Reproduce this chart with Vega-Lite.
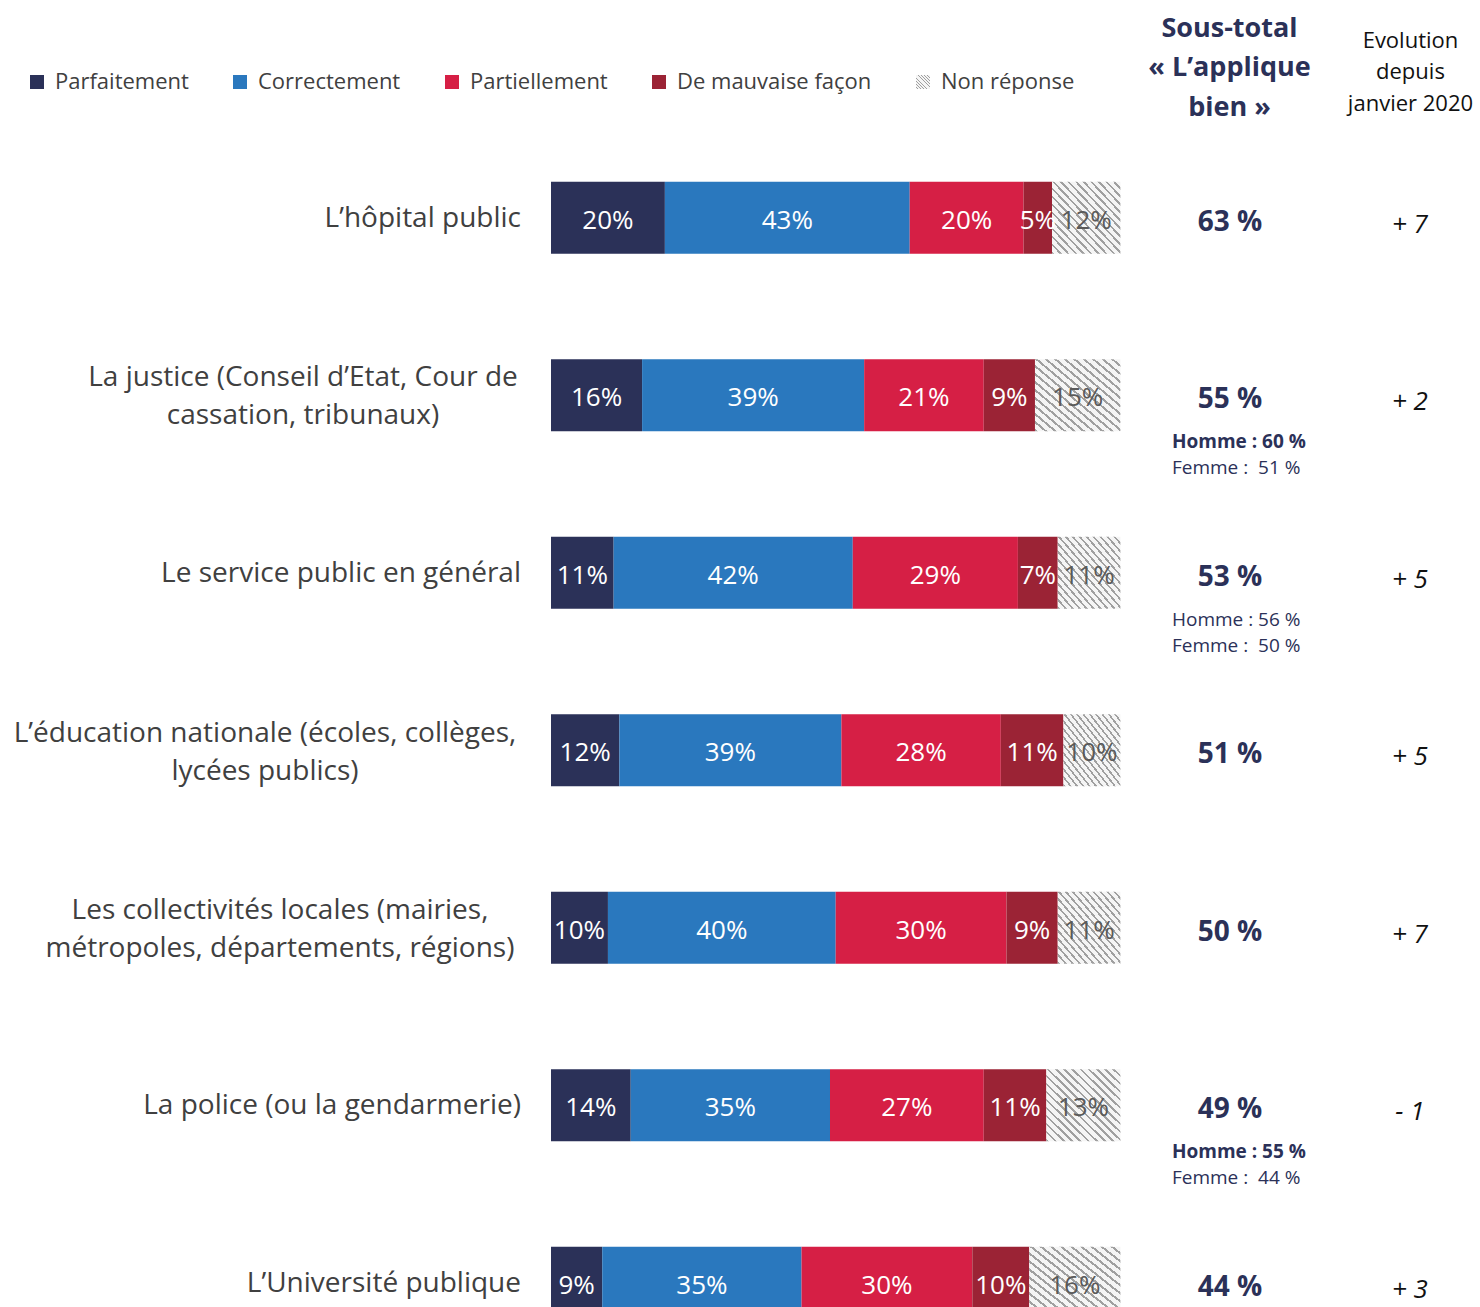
{
  "$schema": "https://vega.github.io/schema/vega-lite/v6.json",
  "width": 929,
  "height": 1178,
  "autosize": {"type": "none"},
  "padding": {"left": 551, "top": 129, "right": 0, "bottom": 0},
  "background": "#ffffff",
  "config": {"view": {"stroke": null}, "font": "Open Sans"},
  "datasets": {
    "reponses": [
      {"category": "L’hôpital public", "response": "Parfaitement", "code": 1, "value": 0.20},
      {"category": "L’hôpital public", "response": "Correctement", "code": 2, "value": 0.43},
      {"category": "L’hôpital public", "response": "Partiellement", "code": 3, "value": 0.20},
      {"category": "L’hôpital public", "response": "De mauvaise façon", "code": 4, "value": 0.05},
      {"category": "L’hôpital public", "response": "Non réponse", "code": 5, "value": 0.12},
      {"category": "La justice (Conseil d’Etat, Cour de\ncassation, tribunaux)", "response": "Parfaitement", "code": 1, "value": 0.16},
      {"category": "La justice (Conseil d’Etat, Cour de\ncassation, tribunaux)", "response": "Correctement", "code": 2, "value": 0.39},
      {"category": "La justice (Conseil d’Etat, Cour de\ncassation, tribunaux)", "response": "Partiellement", "code": 3, "value": 0.21},
      {"category": "La justice (Conseil d’Etat, Cour de\ncassation, tribunaux)", "response": "De mauvaise façon", "code": 4, "value": 0.09},
      {"category": "La justice (Conseil d’Etat, Cour de\ncassation, tribunaux)", "response": "Non réponse", "code": 5, "value": 0.15},
      {"category": "Le service public en général", "response": "Parfaitement", "code": 1, "value": 0.11},
      {"category": "Le service public en général", "response": "Correctement", "code": 2, "value": 0.42},
      {"category": "Le service public en général", "response": "Partiellement", "code": 3, "value": 0.29},
      {"category": "Le service public en général", "response": "De mauvaise façon", "code": 4, "value": 0.07},
      {"category": "Le service public en général", "response": "Non réponse", "code": 5, "value": 0.11},
      {"category": "L’éducation nationale (écoles, collèges,\nlycées publics)", "response": "Parfaitement", "code": 1, "value": 0.12},
      {"category": "L’éducation nationale (écoles, collèges,\nlycées publics)", "response": "Correctement", "code": 2, "value": 0.39},
      {"category": "L’éducation nationale (écoles, collèges,\nlycées publics)", "response": "Partiellement", "code": 3, "value": 0.28},
      {"category": "L’éducation nationale (écoles, collèges,\nlycées publics)", "response": "De mauvaise façon", "code": 4, "value": 0.11},
      {"category": "L’éducation nationale (écoles, collèges,\nlycées publics)", "response": "Non réponse", "code": 5, "value": 0.10},
      {"category": "Les collectivités locales (mairies,\nmétropoles, départements, régions)", "response": "Parfaitement", "code": 1, "value": 0.10},
      {"category": "Les collectivités locales (mairies,\nmétropoles, départements, régions)", "response": "Correctement", "code": 2, "value": 0.40},
      {"category": "Les collectivités locales (mairies,\nmétropoles, départements, régions)", "response": "Partiellement", "code": 3, "value": 0.30},
      {"category": "Les collectivités locales (mairies,\nmétropoles, départements, régions)", "response": "De mauvaise façon", "code": 4, "value": 0.09},
      {"category": "Les collectivités locales (mairies,\nmétropoles, départements, régions)", "response": "Non réponse", "code": 5, "value": 0.11},
      {"category": "La police (ou la gendarmerie)", "response": "Parfaitement", "code": 1, "value": 0.14},
      {"category": "La police (ou la gendarmerie)", "response": "Correctement", "code": 2, "value": 0.35},
      {"category": "La police (ou la gendarmerie)", "response": "Partiellement", "code": 3, "value": 0.27},
      {"category": "La police (ou la gendarmerie)", "response": "De mauvaise façon", "code": 4, "value": 0.11},
      {"category": "La police (ou la gendarmerie)", "response": "Non réponse", "code": 5, "value": 0.13},
      {"category": "L’Université publique", "response": "Parfaitement", "code": 1, "value": 0.09},
      {"category": "L’Université publique", "response": "Correctement", "code": 2, "value": 0.35},
      {"category": "L’Université publique", "response": "Partiellement", "code": 3, "value": 0.30},
      {"category": "L’Université publique", "response": "De mauvaise façon", "code": 4, "value": 0.10},
      {"category": "L’Université publique", "response": "Non réponse", "code": 5, "value": 0.16}
    ],
    "synthese": [
      {"category": "L’hôpital public", "soustotal": "63 %", "evolution": "+ 7", "homme": null, "femme": null},
      {"category": "La justice (Conseil d’Etat, Cour de\ncassation, tribunaux)", "soustotal": "55 %", "evolution": "+ 2", "homme": "Homme : 60 %", "femme": "Femme :\u00a0 51 %"},
      {"category": "Le service public en général", "soustotal": "53 %", "evolution": "+ 5", "homme": "Homme : 56 %", "femme": "Femme :\u00a0 50 %"},
      {"category": "L’éducation nationale (écoles, collèges,\nlycées publics)", "soustotal": "51 %", "evolution": "+ 5", "homme": null, "femme": null},
      {"category": "Les collectivités locales (mairies,\nmétropoles, départements, régions)", "soustotal": "50 %", "evolution": "+ 7", "homme": null, "femme": null},
      {"category": "La police (ou la gendarmerie)", "soustotal": "49 %", "evolution": "- 1", "homme": "Homme : 55 %", "femme": "Femme :\u00a0 44 %"},
      {"category": "L’Université publique", "soustotal": "44 %", "evolution": "+ 3", "homme": null, "femme": null}
    ]
  },
  "encoding": {
    "y": {
      "field": "category",
      "type": "nominal",
      "sort": null,
      "scale": {
        "domain": [
          "L’hôpital public",
          "La justice (Conseil d’Etat, Cour de\ncassation, tribunaux)",
          "Le service public en général",
          "L’éducation nationale (écoles, collèges,\nlycées publics)",
          "Les collectivités locales (mairies,\nmétropoles, départements, régions)",
          "La police (ou la gendarmerie)",
          "L’Université publique"
        ],
        "range": [0, 1242.5],
        "paddingInner": 0.594,
        "paddingOuter": 0.297
      },
      "axis": null
    }
  },
  "layer": [
    {
      "data": {"name": "reponses"},
      "mark": {"type": "bar"},
      "encoding": {
        "x": {
          "field": "value",
          "type": "quantitative",
          "stack": "zero",
          "scale": {"domain": [0, 1.6316], "nice": false, "zero": true},
          "axis": {
            "orient": "top",
            "values": [1.5086],
            "ticks": false,
            "domain": false,
            "grid": false,
            "labelPadding": 89,
            "labelFlush": false,
            "labelOverlap": false,
            "labelBound": false,
            "labelAngle": 0,
            "labelAlign": "center",
            "labelBaseline": "middle",
            "labelLimit": 400,
            "labelExpr": "['Evolution', 'depuis', 'janvier 2020']",
            "labelFontSize": 22,
            "labelColor": "#111111",
            "labelLineHeight": 31.5,
            "title": ["Sous-total", "« L’applique", "bien »"],
            "titleX": 678,
            "titleY": -101,
            "titleAngle": 0,
            "titleAlign": "center",
            "titleBaseline": "middle",
            "titleFontSize": 27,
            "titleFontWeight": "bold",
            "titleColor": "#2b3158",
            "titleLineHeight": 39.5
          }
        },
        "color": {
          "field": "response",
          "type": "nominal",
          "scale": {
            "domain": ["Parfaitement", "Correctement", "Partiellement", "De mauvaise façon", "Non réponse"],
            "range": [
              "#2b3158",
              "#2a78be",
              "#d61f45",
              "#9b2335",
              {"expr": "{gradient: 'linear', x1: 0, y1: 1, x2: 1, y2: 0, stops: [{offset: 0, color: '#a0a0a0'}, {offset: 0.018, color: '#a0a0a0'}, {offset: 0.018, color: '#f5f5f5'}, {offset: 0.0556, color: '#f5f5f5'}, {offset: 0.0556, color: '#a0a0a0'}, {offset: 0.0736, color: '#a0a0a0'}, {offset: 0.0736, color: '#f5f5f5'}, {offset: 0.1111, color: '#f5f5f5'}, {offset: 0.1111, color: '#a0a0a0'}, {offset: 0.1291, color: '#a0a0a0'}, {offset: 0.1291, color: '#f5f5f5'}, {offset: 0.1667, color: '#f5f5f5'}, {offset: 0.1667, color: '#a0a0a0'}, {offset: 0.1847, color: '#a0a0a0'}, {offset: 0.1847, color: '#f5f5f5'}, {offset: 0.2222, color: '#f5f5f5'}, {offset: 0.2222, color: '#a0a0a0'}, {offset: 0.2402, color: '#a0a0a0'}, {offset: 0.2402, color: '#f5f5f5'}, {offset: 0.2778, color: '#f5f5f5'}, {offset: 0.2778, color: '#a0a0a0'}, {offset: 0.2958, color: '#a0a0a0'}, {offset: 0.2958, color: '#f5f5f5'}, {offset: 0.3333, color: '#f5f5f5'}, {offset: 0.3333, color: '#a0a0a0'}, {offset: 0.3513, color: '#a0a0a0'}, {offset: 0.3513, color: '#f5f5f5'}, {offset: 0.3889, color: '#f5f5f5'}, {offset: 0.3889, color: '#a0a0a0'}, {offset: 0.4069, color: '#a0a0a0'}, {offset: 0.4069, color: '#f5f5f5'}, {offset: 0.4444, color: '#f5f5f5'}, {offset: 0.4444, color: '#a0a0a0'}, {offset: 0.4624, color: '#a0a0a0'}, {offset: 0.4624, color: '#f5f5f5'}, {offset: 0.5, color: '#f5f5f5'}, {offset: 0.5, color: '#a0a0a0'}, {offset: 0.518, color: '#a0a0a0'}, {offset: 0.518, color: '#f5f5f5'}, {offset: 0.5556, color: '#f5f5f5'}, {offset: 0.5556, color: '#a0a0a0'}, {offset: 0.5736, color: '#a0a0a0'}, {offset: 0.5736, color: '#f5f5f5'}, {offset: 0.6111, color: '#f5f5f5'}, {offset: 0.6111, color: '#a0a0a0'}, {offset: 0.6291, color: '#a0a0a0'}, {offset: 0.6291, color: '#f5f5f5'}, {offset: 0.6667, color: '#f5f5f5'}, {offset: 0.6667, color: '#a0a0a0'}, {offset: 0.6847, color: '#a0a0a0'}, {offset: 0.6847, color: '#f5f5f5'}, {offset: 0.7222, color: '#f5f5f5'}, {offset: 0.7222, color: '#a0a0a0'}, {offset: 0.7402, color: '#a0a0a0'}, {offset: 0.7402, color: '#f5f5f5'}, {offset: 0.7778, color: '#f5f5f5'}, {offset: 0.7778, color: '#a0a0a0'}, {offset: 0.7958, color: '#a0a0a0'}, {offset: 0.7958, color: '#f5f5f5'}, {offset: 0.8333, color: '#f5f5f5'}, {offset: 0.8333, color: '#a0a0a0'}, {offset: 0.8513, color: '#a0a0a0'}, {offset: 0.8513, color: '#f5f5f5'}, {offset: 0.8889, color: '#f5f5f5'}, {offset: 0.8889, color: '#a0a0a0'}, {offset: 0.9069, color: '#a0a0a0'}, {offset: 0.9069, color: '#f5f5f5'}, {offset: 0.9444, color: '#f5f5f5'}, {offset: 0.9444, color: '#a0a0a0'}, {offset: 0.9624, color: '#a0a0a0'}, {offset: 0.9624, color: '#f5f5f5'}, {offset: 1, color: '#f5f5f5'}]}"}
            ]
          },
          "legend": {
            "orient": "none",
            "legendX": -525,
            "legendY": -58,
            "direction": "horizontal",
            "title": null,
            "symbolType": "square",
            "symbolSize": 196,
            "symbolStrokeWidth": 0,
            "symbolOpacity": 1,
            "labelFont": "Open Sans",
            "labelFontSize": 22,
            "labelColor": "#404040",
            "labelOffset": 7,
            "columnPadding": 40,
            "labelLimit": 400
          }
        },
        "order": {"field": "code", "type": "quantitative"}
      }
    },
    {
      "data": {"name": "reponses"},
      "mark": {"type": "text", "fontSize": 26, "dy": 3},
      "encoding": {
        "x": {
          "field": "value",
          "type": "quantitative",
          "stack": "zero",
          "bandPosition": 0.5,
          "scale": {"domain": [0, 1.6316], "nice": false, "zero": true}
        },
        "detail": {"field": "response", "type": "nominal"},
        "order": {"field": "code", "type": "quantitative"},
        "text": {"field": "value", "type": "quantitative", "format": ".0%"},
        "color": {
          "condition": {"test": "datum.response === 'Non réponse'", "value": "#5a5a5a"},
          "value": "#ffffff"
        }
      }
    },
    {
      "data": {"name": "synthese"},
      "transform": [{"filter": {"field": "category", "oneOf": ["L’hôpital public", "Le service public en général", "La police (ou la gendarmerie)", "L’Université publique"]}}],
      "mark": {"type": "text", "fontSize": 28, "color": "#404040", "align": "right", "dy": 1},
      "encoding": {
        "x": {"datum": -0.0527, "type": "quantitative", "scale": {"domain": [0, 1.6316], "nice": false, "zero": true}},
        "text": {"field": "category", "type": "nominal"}
      }
    },
    {
      "data": {"name": "synthese"},
      "transform": [{"filter": {"field": "category", "equal": "La justice (Conseil d’Etat, Cour de\ncassation, tribunaux)"}}],
      "mark": {"type": "text", "fontSize": 28, "color": "#404040", "align": "center", "lineBreak": "\n", "lineHeight": 38, "dx": -218, "dy": -17},
      "encoding": {
        "x": {"datum": -0.0527, "type": "quantitative", "scale": {"domain": [0, 1.6316], "nice": false, "zero": true}},
        "text": {"field": "category", "type": "nominal"}
      }
    },
    {
      "data": {"name": "synthese"},
      "transform": [{"filter": {"field": "category", "equal": "L’éducation nationale (écoles, collèges,\nlycées publics)"}}],
      "mark": {"type": "text", "fontSize": 28, "color": "#404040", "align": "center", "lineBreak": "\n", "lineHeight": 38, "dx": -256, "dy": -16},
      "encoding": {
        "x": {"datum": -0.0527, "type": "quantitative", "scale": {"domain": [0, 1.6316], "nice": false, "zero": true}},
        "text": {"field": "category", "type": "nominal"}
      }
    },
    {
      "data": {"name": "synthese"},
      "transform": [{"filter": {"field": "category", "equal": "Les collectivités locales (mairies,\nmétropoles, départements, régions)"}}],
      "mark": {"type": "text", "fontSize": 28, "color": "#404040", "align": "center", "lineBreak": "\n", "lineHeight": 38, "dx": -241, "dy": -17},
      "encoding": {
        "x": {"datum": -0.0527, "type": "quantitative", "scale": {"domain": [0, 1.6316], "nice": false, "zero": true}},
        "text": {"field": "category", "type": "nominal"}
      }
    },
    {
      "data": {"name": "synthese"},
      "mark": {"type": "text", "fontSize": 28, "fontWeight": "bold", "color": "#2b3158", "dy": 5},
      "encoding": {
        "x": {"datum": 1.1925, "type": "quantitative", "scale": {"domain": [0, 1.6316], "nice": false, "zero": true}},
        "text": {"field": "soustotal", "type": "nominal"}
      }
    },
    {
      "data": {"name": "synthese"},
      "mark": {"type": "text", "fontSize": 26, "fontStyle": "italic", "color": "#111111", "dy": 7},
      "encoding": {
        "x": {"datum": 1.5086, "type": "quantitative", "scale": {"domain": [0, 1.6316], "nice": false, "zero": true}},
        "text": {"field": "evolution", "type": "nominal"}
      }
    },
    {
      "data": {"name": "synthese"},
      "transform": [{"filter": {"field": "category", "oneOf": ["La justice (Conseil d’Etat, Cour de\ncassation, tribunaux)", "La police (ou la gendarmerie)"]}}],
      "mark": {"type": "text", "fontSize": 19, "fontWeight": "bold", "color": "#2b3158", "align": "left", "dy": 47},
      "encoding": {
        "x": {"datum": 1.0906, "type": "quantitative", "scale": {"domain": [0, 1.6316], "nice": false, "zero": true}},
        "text": {"field": "homme", "type": "nominal"}
      }
    },
    {
      "data": {"name": "synthese"},
      "transform": [{"filter": {"field": "category", "equal": "Le service public en général"}}],
      "mark": {"type": "text", "fontSize": 19, "color": "#2b3158", "align": "left", "dy": 47},
      "encoding": {
        "x": {"datum": 1.0906, "type": "quantitative", "scale": {"domain": [0, 1.6316], "nice": false, "zero": true}},
        "text": {"field": "homme", "type": "nominal"}
      }
    },
    {
      "data": {"name": "synthese"},
      "transform": [{"filter": {"field": "category", "oneOf": ["La justice (Conseil d’Etat, Cour de\ncassation, tribunaux)", "Le service public en général", "La police (ou la gendarmerie)"]}}],
      "mark": {"type": "text", "fontSize": 19, "color": "#2b3158", "align": "left", "dy": 73},
      "encoding": {
        "x": {"datum": 1.0906, "type": "quantitative", "scale": {"domain": [0, 1.6316], "nice": false, "zero": true}},
        "text": {"field": "femme", "type": "nominal"}
      }
    }
  ]
}
